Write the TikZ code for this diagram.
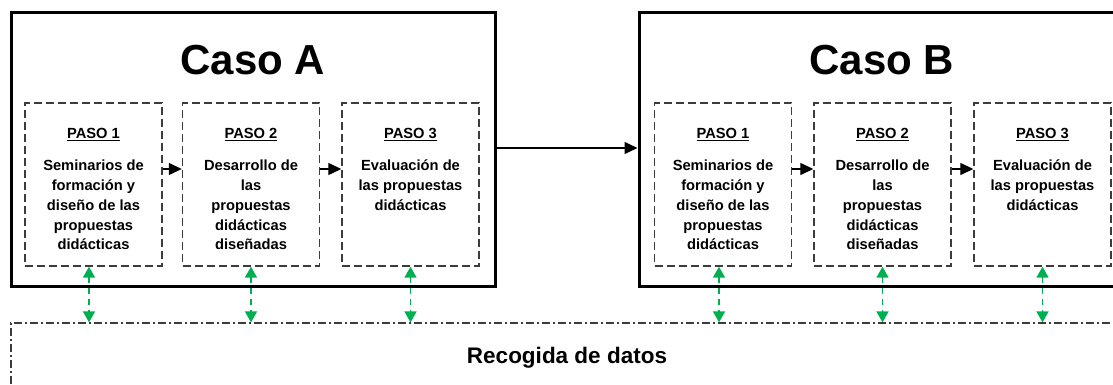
\documentclass[tikz,border=0pt]{standalone}
\usepackage{fontspec}
\setmainfont{Liberation Sans}
\usetikzlibrary{arrows.meta}
\definecolor{dgray}{HTML}{3C3C3C}
\definecolor{grn}{HTML}{00B050}
\begin{document}
\begin{tikzpicture}[x=1pt,y=-1pt,
  casebox/.style={draw=black, line width=3pt, rectangle, inner sep=0pt},
  stepbox/.style={draw=dgray, line width=1.4pt, dash pattern=on 8pt off 4pt, rectangle, inner sep=0pt, minimum width=137pt, minimum height=163pt},
  datobox/.style={draw=dgray, line width=1.2pt, dash pattern=on 8pt off 3pt on 2pt off 3pt, rectangle, inner sep=0pt},
  title/.style={font=\fontsize{42}{48}\selectfont\bfseries, inner sep=0pt},
  steptext/.style={anchor=base, inner sep=0pt, font=\fontsize{14.7}{19.7}\selectfont\bfseries},
  blackarr/.style={draw=black, line width=1.3pt, -{Triangle[length=13pt,width=12pt]}},
  greenarr/.style={draw=grn, line width=1.6pt, dash pattern=on 6pt off 5pt, {Triangle[length=11pt,width=12pt]}-{Triangle[length=11pt,width=12pt]}}
]
\useasboundingbox (0,0) rectangle (1113,385);
\clip (0,0) rectangle (1113,385);
% case boxes
\node[casebox, minimum width=484pt, minimum height=273pt] (caseA) at (253,149.5) {};
\node[casebox, minimum width=491pt, minimum height=273pt] (caseB) at (884.5,149.5) {};
\node[title] (titA) at (253,60) {Caso A};
\node[title] (titB) at (882,60) {Caso B};
% step boxes
\node[stepbox] (A1) at (93.5,184.5) {};
\node[stepbox] (A2) at (251,184.5) {};
\node[stepbox] (A3) at (410.5,184.5) {};
\node[stepbox] (B1) at (723,184.5) {};
\node[stepbox] (B2) at (882.5,184.5) {};
\node[stepbox] (B3) at (1042.5,184.5) {};
% step texts
\newcommand{\stepone}{\parbox[t]{134pt}{\centering\baselineskip=19.7pt \underline{PASO 1}\\[12.3pt]Seminarios de\\formación y\\diseño de las\\propuestas\\didácticas}}
\newcommand{\steptwo}{\parbox[t]{134pt}{\centering\baselineskip=19.7pt \underline{PASO 2}\\[12.3pt]Desarrollo de\\las\\propuestas\\didácticas\\diseñadas}}
\newcommand{\stepthree}{\parbox[t]{134pt}{\centering\baselineskip=19.7pt \underline{PASO 3}\\[12.3pt]Evaluación de\\las propuestas\\didácticas}}
\node[steptext] (tA1) at (93.5,139) {\stepone};
\node[steptext] (tA2) at (251,139) {\steptwo};
\node[steptext] (tA3) at (410.5,139) {\stepthree};
\node[steptext] (tB1) at (723,139) {\stepone};
\node[steptext] (tB2) at (882.5,139) {\steptwo};
\node[steptext] (tB3) at (1042.5,139) {\stepthree};
% data box
\node[datobox, minimum width=1119pt, minimum height=77pt] (datos) at (570.5,361.5) {};
\node[inner sep=0pt, font=\fontsize{22.5}{26}\selectfont\bfseries] (datlbl) at (567,358) {Recogida de datos};
% black arrows
\draw[blackarr] ([yshift=15.5pt]A1.east) -- ([yshift=15.5pt]A2.west);
\draw[blackarr] ([yshift=15.5pt]A2.east) -- ([yshift=15.5pt]A3.west);
\draw[blackarr] ([yshift=15.5pt]B1.east) -- ([yshift=15.5pt]B2.west);
\draw[blackarr] ([yshift=15.5pt]B2.east) -- ([yshift=15.5pt]B3.west);
\draw[blackarr] ([yshift=1.5pt]caseA.east) -- ([yshift=1.5pt]caseB.west);
% green arrows
\draw[greenarr] ([xshift=-4.5pt]A1.south) -- ([xshift=-4.5pt]A1.south |- datos.north);
\draw[greenarr] (A2.south) -- (A2.south |- datos.north);
\draw[greenarr] (A3.south) -- (A3.south |- datos.north);
\draw[greenarr] ([xshift=-4pt]B1.south) -- ([xshift=-4pt]B1.south |- datos.north);
\draw[greenarr] (B2.south) -- (B2.south |- datos.north);
\draw[greenarr] (B3.south) -- (B3.south |- datos.north);
\end{tikzpicture}
\end{document}
